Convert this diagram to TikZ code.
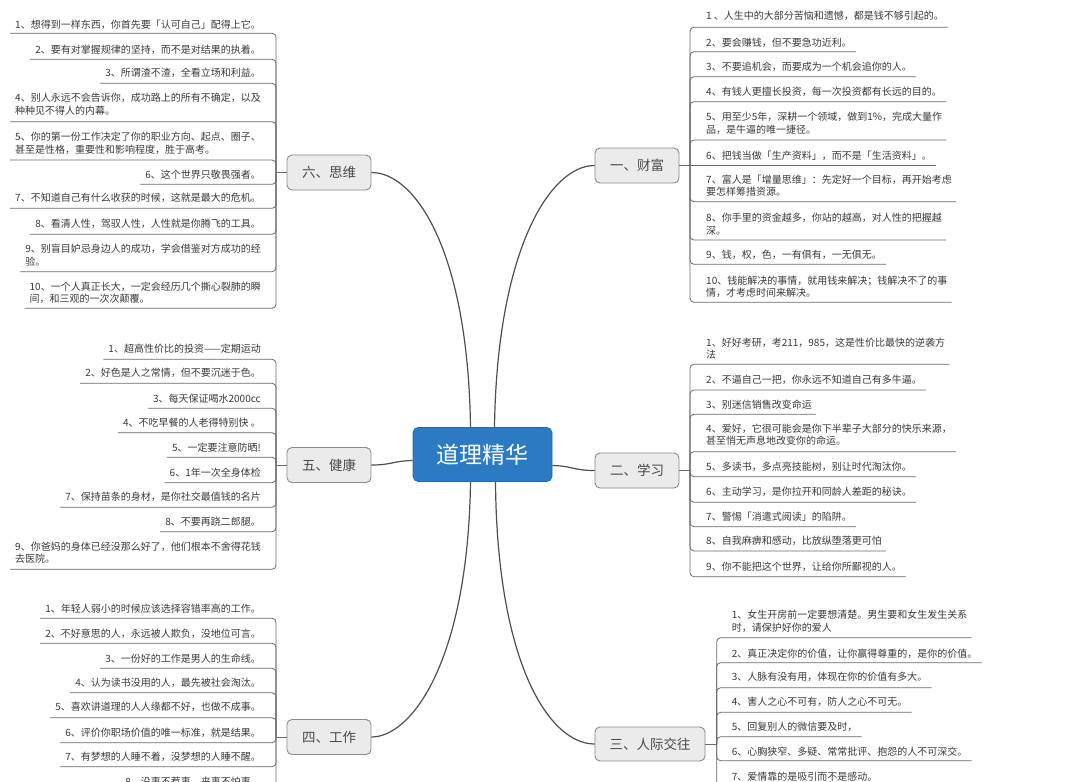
\documentclass[tikz,border=0pt]{standalone}
\usepackage{fontspec}
\setmainfont{Noto Sans CJK SC}
\definecolor{itemtext}{HTML}{3A3A3A}
\definecolor{subline}{HTML}{6A6A6A}
\definecolor{branchfill}{HTML}{EBEBEB}
\definecolor{branchdraw}{HTML}{8A8A8A}
\definecolor{branchtext}{HTML}{4A4A4A}
\definecolor{rootblue}{HTML}{2C7BC2}
\definecolor{trunkline}{HTML}{4F4F4F}
\tikzset{
  rootbox/.style={rectangle, rounded corners=5pt, fill=rootblue, draw=rootblue!85!black, line width=0.6pt, text=white, minimum width=139pt, minimum height=54pt, inner sep=0pt, font=\fontsize{23}{26}\selectfont},
  branchbox/.style={rectangle, rounded corners=5pt, fill=branchfill, draw=branchdraw, line width=0.9pt, text=branchtext, minimum width=84pt, minimum height=35pt, inner sep=0pt, font=\fontsize{13.5}{15}\selectfont},
  itembox/.style={inner ysep=0pt, align=left, text=itemtext, font=\fontsize{10}{12.6}\selectfont},
  ritem/.style={itembox, inner xsep=4pt, anchor=west},
  litem/.style={itembox, inner xsep=5pt, anchor=east},
  sublink/.style={draw=subline, line width=0.8pt, rounded corners=4pt},
  trunk/.style={draw=trunkline, line width=1.2pt},
}
% #1 name, #2 parent, #3 bracket x, #4 node x, #5 text y, #6 underline y, #7 text
\newcommand\RItem[7]{\node[ritem] (#1) at (#4,#5) {#7};\draw[sublink] (#2.east -| #3,0) -- (#3,#6) -- (#1.east |- #3,#6);}
\newcommand\LItem[7]{\node[litem] (#1) at (#4,#5) {#7};\draw[sublink] (#2.west -| #3,0) -- (#3,#6) -- (#1.west |- #3,#6);}
\begin{document}
\begin{tikzpicture}[x=1pt,y=-1pt]
\path[use as bounding box, fill=white] (0,0) rectangle (1080,782);
\clip (0,0) rectangle (1080,782);

% root and branches
\node[rootbox] (root) at (482.5,454.5) {道理精华};
\node[branchbox] (b1) at (637,165.5) {一、财富};
\node[branchbox] (b2) at (637,470.5) {二、学习};
\node[branchbox, minimum width=110pt, minimum height=34pt] (b3) at (650,744) {三、人际交往};
\node[branchbox] (b4) at (329,737) {四、工作};
\node[branchbox] (b5) at (329,465) {五、健康};
\node[branchbox] (b6) at (329,172.5) {六、思维};

\draw[trunk] ([xshift=-12pt]root.north) .. controls (468,250) and (415,172.5) .. (b6.east);
\draw[trunk] ([xshift=12pt]root.north) .. controls (497,250) and (550,165.5) .. (b1.west);
\draw[trunk] ([xshift=-12pt]root.south) .. controls (468,660) and (412,737) .. (b4.east);
\draw[trunk] ([xshift=13pt]root.south) .. controls (497,665) and (550,744) .. (b3.west);
\draw[trunk] ([yshift=-6pt]root.west) .. controls (392,461) and (392,465) .. (b5.east);
\draw[trunk] ([yshift=-11pt]root.east) .. controls (573,466) and (573,470.5) .. (b2.west);

% 一、财富
\draw[sublink] (b1.east) -- (b1.east -| 690,0);
\RItem{f1}{b1}{690}{702}{16}{27.3}{1 、人生中的大部分苦恼和遗憾，都是钱不够引起的。}
\RItem{f2}{b1}{690}{702}{42.7}{51.7}{2、要会赚钱，但不要急功近利。}
\RItem{f3}{b1}{690}{702}{66.7}{76.7}{3、不要追机会，而要成为一个机会追你的人。}
\RItem{f4}{b1}{690}{702}{91.7}{101.7}{4、有钱人更擅长投资，每一次投资都有长远的目的。}
\RItem{f5}{b1}{690}{702}{123.3}{140}{5、用至少5年，深耕一个领域，做到1\%，完成大量作\\品，是牛逼的唯一捷径。}
\node[ritem] (f6) at (702,155.5) {6、把钱当做「生产资料」，而不是「生活资料」。};
\draw[sublink] (b1.east) -- (f6.east |- 0,165.5);
\RItem{f7}{b1}{690}{702}{185.5}{201.7}{7、富人是「增量思维」：先定好一个目标，再开始考虑\\要怎样筹措资源。}
\RItem{f8}{b1}{690}{702}{224.3}{240}{8、你手里的资金越多，你站的越高，对人性的把握越\\深。}
\RItem{f9}{b1}{690}{702}{255}{264.3}{9、钱，权，色，一有俱有，一无俱无。}
\RItem{f10}{b1}{690}{702}{286.7}{302.3}{10、钱能解决的事情，就用钱来解决；钱解决不了的事\\情，才考虑时间来解决。}

% 二、学习
\draw[sublink] (b2.east) -- (b2.east -| 690,0);
\RItem{s1}{b2}{690}{702}{348.8}{364.3}{1、好好考研，考211，985，这是性价比最快的逆袭方\\法}
\RItem{s2}{b2}{690}{702}{380}{390}{2、不逼自己一把，你永远不知道自己有多牛逼。}
\RItem{s3}{b2}{690}{702}{405}{414.3}{3、别迷信销售改变命运}
\RItem{s4}{b2}{690}{702}{434.8}{451.7}{4、爱好，它很可能会是你下半辈子大部分的快乐来源，\\甚至悄无声息地改变你的命运。}
\RItem{s5}{b2}{690}{702}{466.7}{476.7}{5、多读书，多点亮技能树，别让时代淘汰你。}
\RItem{s6}{b2}{690}{702}{491.7}{502.3}{6、主动学习，是你拉开和同龄人差距的秘诀。}
\RItem{s7}{b2}{690}{702}{516.7}{526.7}{7、警惕「消遣式阅读」的陷阱。}
\RItem{s8}{b2}{690}{702}{541}{551}{8、自我麻痹和感动，比放纵堕落更可怕}
\RItem{s9}{b2}{690}{702}{566.7}{576.7}{9、你不能把这个世界，让给你所鄙视的人。}

% 三、人际交往
\draw[sublink] (b3.east) -- (b3.east -| 716.7,0);
\RItem{r1}{b3}{716.7}{727.7}{621.3}{637.7}{1、女生开房前一定要想清楚。男生要和女生发生关系\\时，请保护好你的爱人}
\RItem{r2}{b3}{716.7}{727.7}{653.3}{662.7}{2、真正决定你的价值，让你赢得尊重的，是你的价值。}
\RItem{r3}{b3}{716.7}{727.7}{676.7}{687.7}{3、人脉有没有用，体现在你的价值有多大。}
\RItem{r4}{b3}{716.7}{727.7}{701.7}{712.3}{4、害人之心不可有，防人之心不可无。}
\RItem{r5}{b3}{716.7}{727.7}{726.7}{736.7}{5、回复别人的微信要及时，}
\RItem{r6}{b3}{716.7}{727.7}{751.7}{760.7}{6、心胸狭窄、多疑、常常批评、抱怨的人不可深交。}
\RItem{r7}{b3}{716.7}{727.7}{776.7}{786.7}{7、爱情靠的是吸引而不是感动。}

% 六、思维
\draw[sublink] (b6.west) -- (b6.west -| 276,0);
\LItem{t1}{b6}{276}{266}{25}{33.3}{1、想得到一样东西，你首先要「认可自己」配得上它。}
\LItem{t2}{b6}{276}{266}{50}{59.3}{2、要有对掌握规律的坚持，而不是对结果的执着。}
\LItem{t3}{b6}{276}{266}{72.7}{83.3}{3、所谓渣不渣，全看立场和利益。}
\LItem{t4}{b6}{276}{266}{104.2}{121.7}{4、别人永远不会告诉你，成功路上的所有不确定，以及\\种种见不得人的内幕。}
\LItem{t5}{b6}{276}{266}{143.3}{160}{5、你的第一份工作决定了你的职业方向、起点、圈子、\\甚至是性格，重要性和影响程度，胜于高考。}
\LItem{t6}{b6}{276}{266}{174.3}{184.3}{6、这个世界只敬畏强者。}
\LItem{t7}{b6}{276}{266}{198.3}{208.3}{7、不知道自己有什么收获的时候，这就是最大的危机。}
\LItem{t8}{b6}{276}{266}{224.3}{234.3}{8、看清人性，驾驭人性，人性就是你腾飞的工具。}
\LItem{t9}{b6}{276}{266}{255}{271.7}{9、别盲目妒忌身边人的成功，学会借鉴对方成功的经\\验。}
\LItem{t10}{b6}{276}{266}{292.8}{308.3}{10、一个人真正长大，一定会经历几个撕心裂肺的瞬\\间，和三观的一次次颠覆。}

% 五、健康
\draw[sublink] (b5.west) -- (b5.west -| 276,0);
\LItem{h1}{b5}{276}{266}{348.3}{359.3}{1、超高性价比的投资——定期运动}
\LItem{h2}{b5}{276}{266}{372.7}{383.3}{2、好色是人之常情，但不要沉迷于色。}
\LItem{h3}{b5}{276}{266}{398.3}{408.3}{3、每天保证喝水2000cc}
\LItem{h4}{b5}{276}{266}{422.7}{432.7}{4、不吃早餐的人老得特别快 。}
\LItem{h5}{b5}{276}{266}{447.3}{457.3}{5、一定要注意防晒!}
\LItem{h6}{b5}{276}{266}{472.7}{482.7}{6、1年一次全身体检}
\LItem{h7}{b5}{276}{266}{496.7}{507.3}{7、保持苗条的身材，是你社交最值钱的名片}
\LItem{h8}{b5}{276}{266}{521.7}{531.7}{8、不要再跷二郎腿。}
\LItem{h9}{b5}{276}{266}{552.7}{569.3}{9、你爸妈的身体已经没那么好了，他们根本不舍得花钱\\去医院。}

% 四、工作
\draw[sublink] (b4.west) -- (b4.west -| 276,0);
\LItem{w1}{b4}{276}{266}{608.3}{618.3}{1、年轻人弱小的时候应该选择容错率高的工作。}
\LItem{w2}{b4}{276}{266}{633.3}{643.3}{2、不好意思的人，永远被人欺负，没地位可言。}
\LItem{w3}{b4}{276}{266}{658.3}{668.3}{3、一份好的工作是男人的生命线。}
\LItem{w4}{b4}{276}{266}{682.7}{692.7}{4、认为读书没用的人，最先被社会淘汰。}
\LItem{w5}{b4}{276}{266}{707.3}{717.7}{5、喜欢讲道理的人人缘都不好，也做不成事。}
\LItem{w6}{b4}{276}{266}{732.7}{742.7}{6、评价你职场价值的唯一标准，就是结果。}
\LItem{w7}{b4}{276}{266}{756.7}{766.7}{7、有梦想的人睡不着，没梦想的人睡不醒。}
\LItem{w8}{b4}{276}{266}{781.7}{791.7}{8、没事不惹事，来事不怕事。}
\end{tikzpicture}
\end{document}
